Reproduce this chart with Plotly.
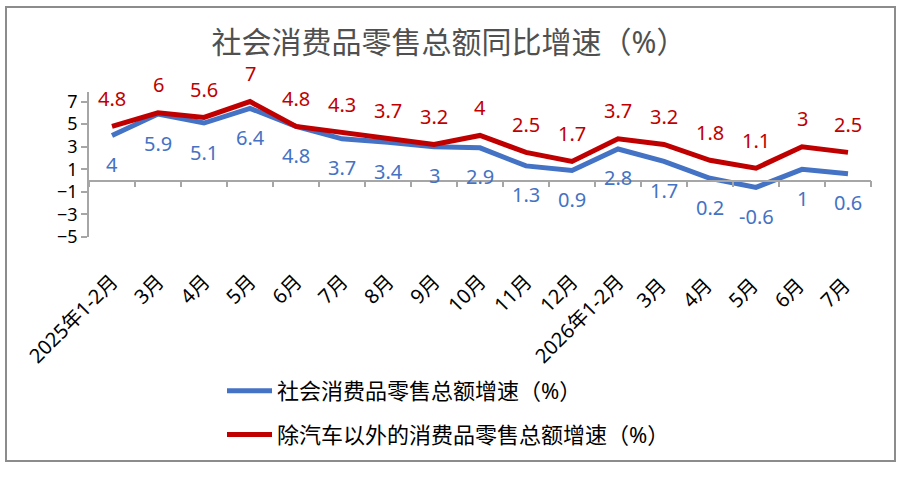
import plotly.graph_objects as go

# Categories and series.
months = ["2025年1-2月", "3月", "4月", "5月", "6月", "7月", "8月", "9月", "10月",
          "11月", "12月", "2026年1-2月", "3月 ", "4月 ", "5月 ", "6月 ", "7月 "]
total_growth = [4, 5.9, 5.1, 6.4, 4.8, 3.7, 3.4, 3, 2.9, 1.3, 0.9, 2.8, 1.7, 0.2, -0.6, 1, 0.6]
ex_auto_growth = [4.8, 6, 5.6, 7, 4.8, 4.3, 3.7, 3.2, 4, 2.5, 1.7, 3.7, 3.2, 1.8, 1.1, 3, 2.5]
y_ticks = [-5, -3, -1, 1, 3, 5, 7]

title = "社会消费品零售总额同比增速（%）"
name_total = "社会消费品零售总额增速（%）"
name_ex_auto = "除汽车以外的消费品零售总额增速（%）"

BLUE = "#4472C4"
RED = "#C00000"
AXIS_GREY = "#A6A6A6"
FONT = "Noto Sans, Noto Sans CJK SC"

# Plot area in pixels (used for the outer frame).
W, H = 903, 501
L, R, T, B = 89, 32, 92, 264
pw, ph = W - L - R, H - T - B

fig = go.Figure()
fig.add_trace(go.Scatter(x=months, y=total_growth, name=name_total, mode="lines",
                         line=dict(color=BLUE, width=5), legendgroup="a"))
fig.add_trace(go.Scatter(x=months, y=ex_auto_growth, name=name_ex_auto, mode="lines",
                         line=dict(color=RED, width=5), legendgroup="b"))
# invisible trace so the zero-line axis gets its categories
fig.add_trace(go.Scatter(x=months, y=total_growth, xaxis="x2", mode="lines",
                         line=dict(width=0), opacity=0, showlegend=False,
                         hoverinfo="skip"))

# Data labels: red above the line, blue below.
for m, v in zip(months, ex_auto_growth):
    fig.add_annotation(x=m, y=v, text=f"{v:g}", showarrow=False, yshift=28,
                       font=dict(color=RED, size=20, family=FONT))
for m, v in zip(months, total_growth):
    fig.add_annotation(x=m, y=v, text=f"{v:g}", showarrow=False, yshift=-29,
                       font=dict(color=BLUE, size=20, family=FONT))

# Outer chart frame.
fig.add_shape(type="rect", xref="paper", yref="paper",
              x0=(6 - L) / pw, x1=(895 - L) / pw,
              y0=(H - B - 461) / ph, y1=(H - B - 7) / ph,
              line=dict(color="#8C8C8C", width=2), layer="below")

y_lo, y_hi = -5, 7.85
fig.update_layout(
    width=W, height=H, autosize=False,
    margin=dict(l=L, r=R, t=T, b=B),
    plot_bgcolor="white", paper_bgcolor="white",
    font=dict(family=FONT, color="black", size=19),
    title=dict(text=title, x=449 / W, y=1 - 42 / H, xanchor="center",
               yanchor="middle", font=dict(size=30, color="#505050")),
    xaxis=dict(type="category", categoryarray=months, range=[-0.5, 16.5],
               showline=False, ticks="", tickangle=-45, showgrid=False,
               automargin=False, ticklabelstandoff=28, tickfont=dict(size=20)),
    xaxis2=dict(type="category", categoryarray=months, range=[-0.5, 16.5],
                overlaying="x", anchor="free",
                position=(0 - y_lo) / (y_hi - y_lo),
                showline=True, linecolor=AXIS_GREY, linewidth=1.5,
                ticks="outside", tickson="boundaries", ticklen=6,
                tickcolor=AXIS_GREY, tickwidth=1.5,
                showticklabels=False, showgrid=False),
    yaxis=dict(range=[y_lo, y_hi], tickvals=y_ticks, showline=True,
               linecolor=AXIS_GREY, linewidth=1.5, ticks="outside", ticklen=6,
               tickcolor=AXIS_GREY, tickwidth=1.5, showgrid=False,
               zeroline=False, automargin=False, tickfont=dict(size=18)),
    legend=dict(x=(222 - L) / pw, y=(H - B - 370) / ph, xanchor="left",
                yanchor="top", font=dict(size=22), tracegroupgap=12,
                itemwidth=45, bgcolor="rgba(0,0,0,0)"),
    showlegend=True,
)

# page body margin would shift the figure by 8px
fig.write_html("out.html", config={"displayModeBar": False},
               post_script="document.body.style.margin='0px';")
